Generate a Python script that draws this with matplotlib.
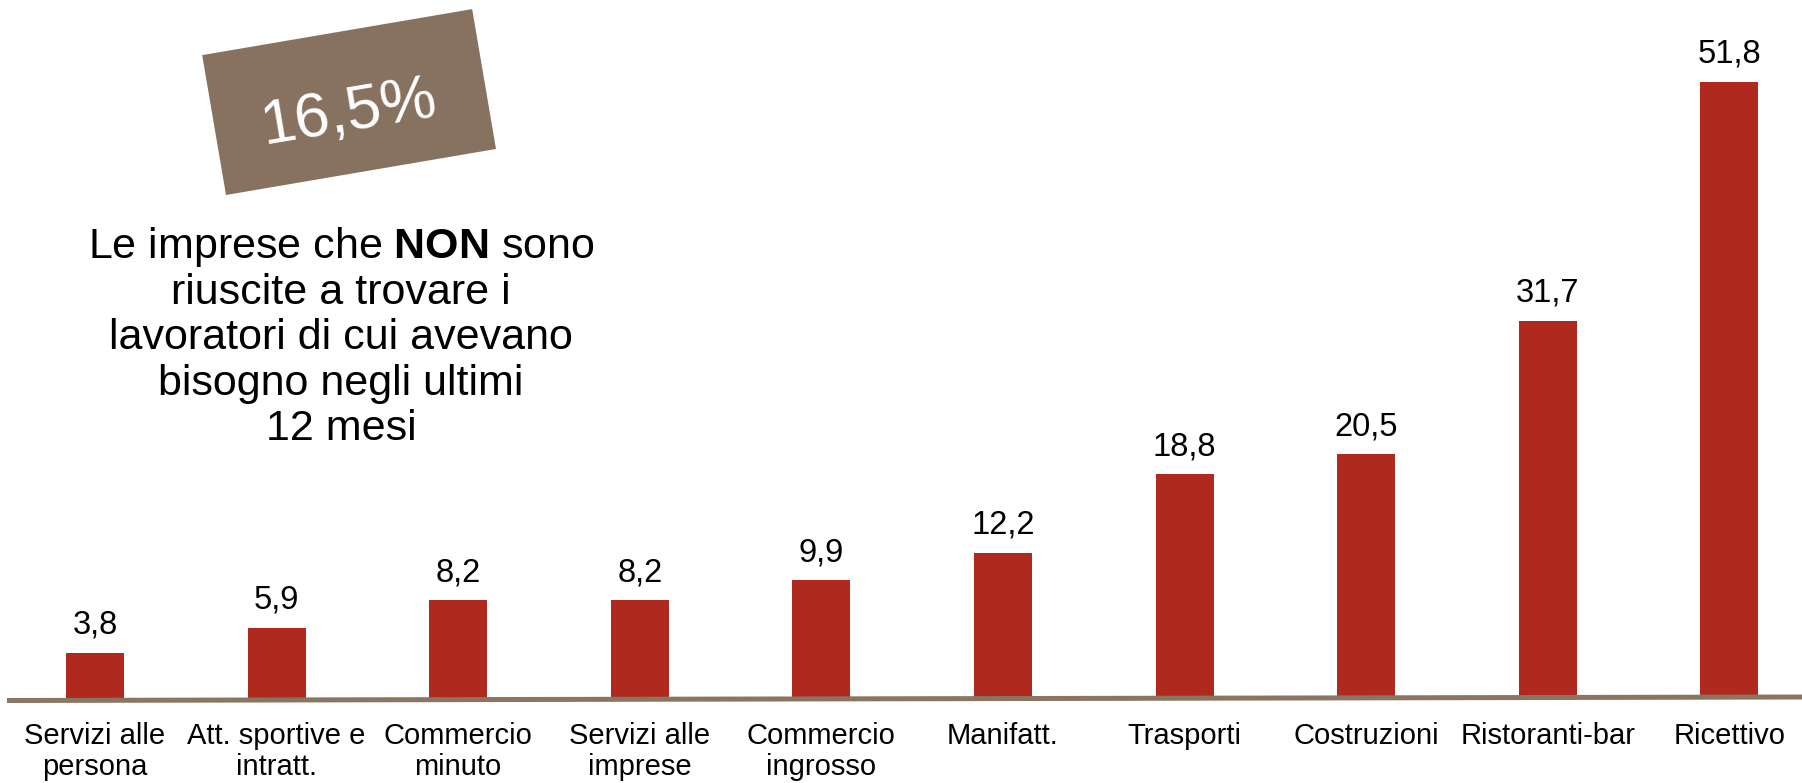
import matplotlib
matplotlib.use("Agg")
import matplotlib.pyplot as plt
from matplotlib.patches import Rectangle
from matplotlib.lines import Line2D

plt.rcParams['font.family'] = ['Liberation Sans', 'DejaVu Sans']
plt.rcParams['mathtext.fontset'] = 'custom'
plt.rcParams['mathtext.rm'] = 'Liberation Sans'
plt.rcParams['mathtext.bf'] = 'Liberation Sans:bold'

# ---- data ----
categories = ["Servizi alle\npersona", "Att. sportive e\nintratt.", "Commercio\nminuto",
              "Servizi alle\nimprese", "Commercio\ningrosso", "Manifatt.", "Trasporti",
              "Costruzioni", "Ristoranti-bar", "Ricettivo"]
values = [3.8, 5.9, 8.2, 8.2, 9.9, 12.2, 18.8, 20.5, 31.7, 51.8]
value_labels = ["3,8", "5,9", "8,2", "8,2", "9,9", "12,2", "18,8", "20,5", "31,7", "51,8"]
headline = "16,5%"
paragraph = [r"Le imprese che $\mathbf{NON}$ sono", "riuscite a trovare i",
             "lavoratori di cui avevano", "bisogno negli ultimi", "12 mesi"]

BAR = '#B0291F'
BROWN = '#877260'
W, H = 1802, 783

fig = plt.figure(figsize=(W / 100, H / 100), dpi=100)

# main bar axes: y=0 at pixel row 698 from top
ax = fig.add_axes([0, 85 / H, 1, 698 / H])
ax.bar(range(len(values)), values, width=0.32, color=BAR, zorder=2)
ax.set_xlim(-0.523, 9.40)
ax.set_ylim(0, 698 / 11.9)
ax.axis('off')

for i, (v, lab) in enumerate(zip(values, value_labels)):
    ax.annotate(lab, xy=(i, v), xytext=(0, 13.7), textcoords='offset points',
                ha='center', va='baseline', fontsize=23.5, color='black')

for i, cat in enumerate(categories):
    ax.annotate(cat, xy=(i, 0), xytext=(0, -17.6), textcoords='offset points',
                ha='center', va='top', multialignment='center',
                fontsize=21, color='black', linespacing=1.13, annotation_clip=False)

# baseline
fig.add_artist(Line2D([7 / W, 1.0], [(H - 700.5) / H, (H - 697) / H],
                      color='#8A7561', lw=3.6, solid_capstyle='butt', zorder=5))

# overlay axes in pixel coordinates (y up)
ov = fig.add_axes([0, 0, 1, 1])
ov.set_xlim(0, W)
ov.set_ylim(0, H)
ov.axis('off')
ov.patch.set_alpha(0)

ov.add_patch(Rectangle((226, H - 195), 273.9, 141.9, angle=9.67, color=BROWN, lw=0))
ov.text(351, H - 129.5, headline, rotation=9.5, rotation_mode='anchor',
        ha='center', va='baseline', fontsize=45, color='white')

baselines = [258, 303.5, 349, 394.5, 440]
for line, yb in zip(paragraph, baselines):
    ov.text(341, H - yb, line, ha='center', va='baseline', fontsize=31, color='black')

fig.savefig('out.png', dpi=100)
